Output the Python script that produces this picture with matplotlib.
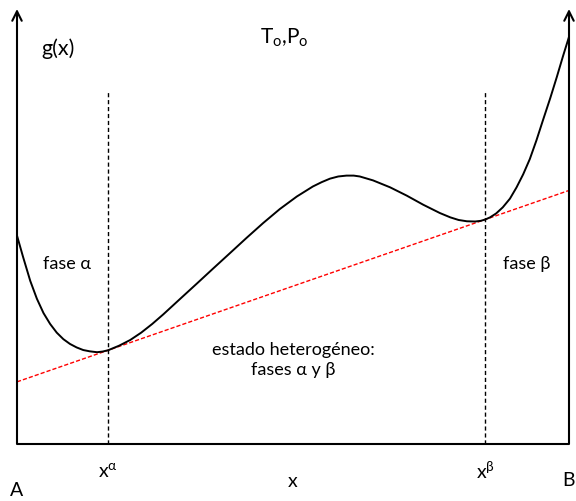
import matplotlib
matplotlib.use("Agg")
import matplotlib.pyplot as plt

plt.rcParams['font.family'] = ['Lato', 'DejaVu Sans']
plt.rcParams['mathtext.fontset'] = 'custom'
plt.rcParams['mathtext.rm'] = 'Lato'
plt.rcParams['mathtext.it'] = 'Lato'

# Free energy of mixing g(x) at fixed T, P (composition 0 = A, 1 = B)
x = [0.000, 0.011, 0.024, 0.036, 0.048, 0.060, 0.072, 0.084, 0.096, 0.108,
     0.120, 0.132, 0.145, 0.155, 0.165, 0.185, 0.205, 0.225, 0.245, 0.265,
     0.295, 0.326, 0.355, 0.386, 0.416, 0.446, 0.476, 0.507, 0.536, 0.552,
     0.567, 0.582, 0.597, 0.610, 0.621, 0.645, 0.676, 0.706, 0.736, 0.766,
     0.785, 0.800, 0.815, 0.830, 0.840, 0.848, 0.857, 0.868, 0.880, 0.893,
     0.905, 0.917, 0.929, 0.941, 0.953, 0.966, 0.978, 0.989, 1.000]
g = [0.479, 0.430, 0.375, 0.334, 0.301, 0.276, 0.256, 0.241, 0.230, 0.222,
     0.216, 0.213, 0.211, 0.2125, 0.2155, 0.226, 0.239, 0.256, 0.276, 0.298,
     0.333, 0.369, 0.403, 0.439, 0.474, 0.508, 0.540, 0.569, 0.592, 0.602,
     0.610, 0.615, 0.617, 0.617, 0.615, 0.606, 0.590, 0.571, 0.550, 0.531,
     0.521, 0.515, 0.512, 0.5115, 0.513, 0.516, 0.521, 0.530, 0.544, 0.564,
     0.590, 0.620, 0.655, 0.698, 0.745, 0.795, 0.844, 0.891, 0.936]

# Common tangent points
x_alpha, g_alpha = 0.165, 0.2155
x_beta, g_beta = 0.848, 0.516
tie_top = 0.809

fig = plt.figure(figsize=(5.76, 5.02), dpi=100)
ax = fig.add_axes([17 / 576, 57 / 502, 552 / 576, 435 / 502])
ax.set_xlim(0, 1)
ax.set_ylim(0, 1)
ax.axis('off')

# frame: two arrowed vertical axes and the composition baseline
for xa in (0, 1):
    ax.annotate('', xy=(xa, 1.0), xytext=(xa, 0.0),
                arrowprops=dict(arrowstyle='->', lw=1.5, color='black',
                                mutation_scale=17, shrinkA=0, shrinkB=0),
                annotation_clip=False)
ax.plot([0, 1], [0, 0], color='black', lw=1.5, clip_on=False,
        solid_capstyle='butt')

# common tangent line
ax.axline((x_alpha, g_alpha), (x_beta, g_beta), color='red', lw=1,
          linestyle=(0, (3, 1.5)))

# g(x) curve
ax.plot(x, g, color='black', lw=1.4, solid_joinstyle='round')

# equilibrium compositions
for xv in (x_alpha, x_beta):
    ax.plot([xv, xv], [0, tie_top], color='black', lw=1,
            linestyle=(0, (3, 2)))

fs = 13
ax.text(0.045, 0.91, 'g(x)', fontsize=15.5, ha='left', va='center')
ax.text(0.485, 0.935, r'T$_{\mathrm{o}}$,P$_{\mathrm{o}}$', fontsize=15,
        ha='center', va='center')
ax.text(0.047, 0.415, 'fase α', fontsize=fs, ha='left', va='center')
ax.text(0.88, 0.415, 'fase β', fontsize=fs, ha='left', va='center')
ax.text(0.5, 0.218, 'estado heterogéneo:', fontsize=fs,
        ha='center', va='center')
ax.text(0.5, 0.172, 'fases α y β', fontsize=fs,
        ha='center', va='center')

ax.text(x_alpha, -0.06, r'x$^{\alpha}$', fontsize=14, ha='center',
        va='center', clip_on=False)
ax.text(x_beta, -0.06, r'x$^{\beta}$', fontsize=14, ha='center',
        va='center', clip_on=False)
ax.text(0.5, -0.085, 'x', fontsize=14, ha='center', va='center',
        clip_on=False)
ax.text(0.0, -0.105, 'A', fontsize=14, ha='center', va='center',
        clip_on=False)
ax.text(1.0, -0.082, 'B', fontsize=14, ha='center', va='center',
        clip_on=False)

fig.savefig('out.png', dpi=100)
